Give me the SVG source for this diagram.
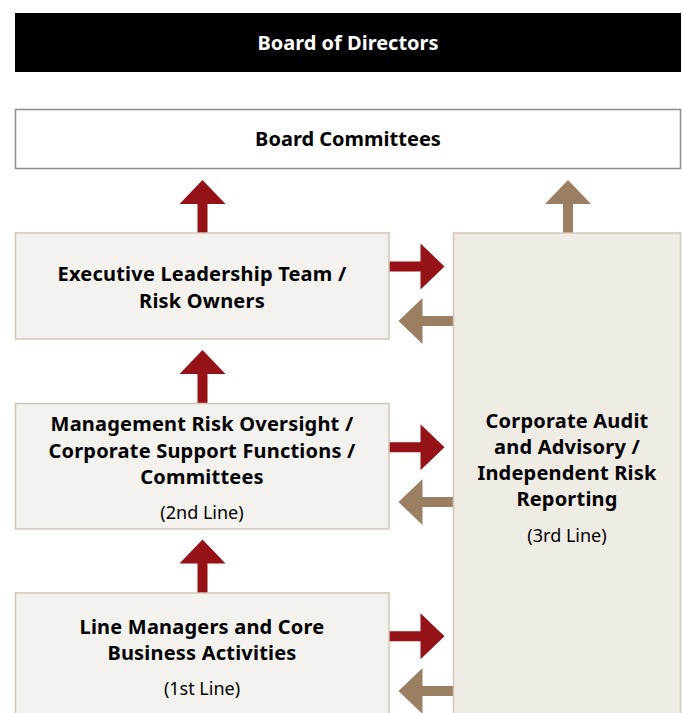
<svg xmlns="http://www.w3.org/2000/svg" xmlns:xlink="http://www.w3.org/1999/xlink" width="683" height="713" viewBox="0 0 683 713">
  <style>
    .t { font-family: "Noto Sans", "Liberation Sans", sans-serif; font-size: 18px; text-anchor: middle; fill: #000; }
    .b { font-weight: bold; font-size: 20px; letter-spacing: 0.2px; }
    .lbox { fill: #f4f2ee; stroke: #d2c5b5; stroke-width: 1.5; }
    .rbox { fill: #efebe5; stroke: #d2c5b5; stroke-width: 1.5; }
    .red { fill: #951318; }
    .brn { fill: #9a7f62; }
  </style>
  <defs>
    <path id="arr" d="M0,0 L23,24 L5,24 L5,56 L-5,56 L-5,24 L-23,24 Z"/>
  </defs>
  <rect width="683" height="713" fill="#fff"/>

  <g id="connectors">
    <use xlink:href="#arr" class="red" transform="translate(202.5,180)"/>
    <use xlink:href="#arr" class="red" transform="translate(202.5,350)"/>
    <use xlink:href="#arr" class="red" transform="translate(202.5,539.5)"/>
    <use xlink:href="#arr" class="brn" transform="translate(568,180)"/>
    <use xlink:href="#arr" class="red" transform="translate(444.5,266.5) rotate(90)"/>
    <use xlink:href="#arr" class="red" transform="translate(444.5,447.3) rotate(90)"/>
    <use xlink:href="#arr" class="red" transform="translate(444.5,636.3) rotate(90)"/>
    <use xlink:href="#arr" class="brn" transform="translate(398.5,321) rotate(-90)"/>
    <use xlink:href="#arr" class="brn" transform="translate(398.5,502) rotate(-90)"/>
    <use xlink:href="#arr" class="brn" transform="translate(398.5,691) rotate(-90)"/>
  </g>

  <g id="board-directors">
    <rect x="15" y="13" width="666" height="59" fill="#000"/>
    <text class="t b" x="348" y="50" style="fill:#fff;letter-spacing:0">Board of Directors</text>
  </g>

  <g id="board-committees">
    <rect x="15.5" y="109.5" width="665" height="59" fill="#fff" stroke="#8c8c8c" stroke-width="1.5"/>
    <text class="t b" x="348" y="146" style="letter-spacing:0">Board Committees</text>
  </g>

  <g id="executive">
    <rect class="lbox" x="15.5" y="233" width="373.5" height="106"/>
    <text class="t b" x="202" y="281">Executive Leadership Team /</text>
    <text class="t b" x="202" y="307.5">Risk Owners</text>
  </g>

  <g id="management">
    <rect class="lbox" x="15.5" y="403.5" width="373.5" height="125.5"/>
    <text class="t b" x="202" y="431">Management Risk Oversight /</text>
    <text class="t b" x="202" y="457.5">Corporate Support Functions /</text>
    <text class="t b" x="202" y="484">Committees</text>
    <text class="t" x="202" y="519">(2nd Line)</text>
  </g>

  <g id="line-managers">
    <rect class="lbox" x="15.5" y="593" width="373.5" height="140"/>
    <text class="t b" x="202" y="634">Line Managers and Core</text>
    <text class="t b" x="202" y="660">Business Activities</text>
    <text class="t" x="202" y="695">(1st Line)</text>
  </g>

  <g id="corporate-audit">
    <rect class="rbox" x="453.5" y="233" width="227" height="500"/>
    <text class="t b" x="567" y="427.7">Corporate Audit</text>
    <text class="t b" x="567" y="453.7">and Advisory /</text>
    <text class="t b" x="567" y="480.3">Independent Risk</text>
    <text class="t b" x="567" y="506">Reporting</text>
    <text class="t" x="567" y="542">(3rd Line)</text>
  </g>
</svg>
